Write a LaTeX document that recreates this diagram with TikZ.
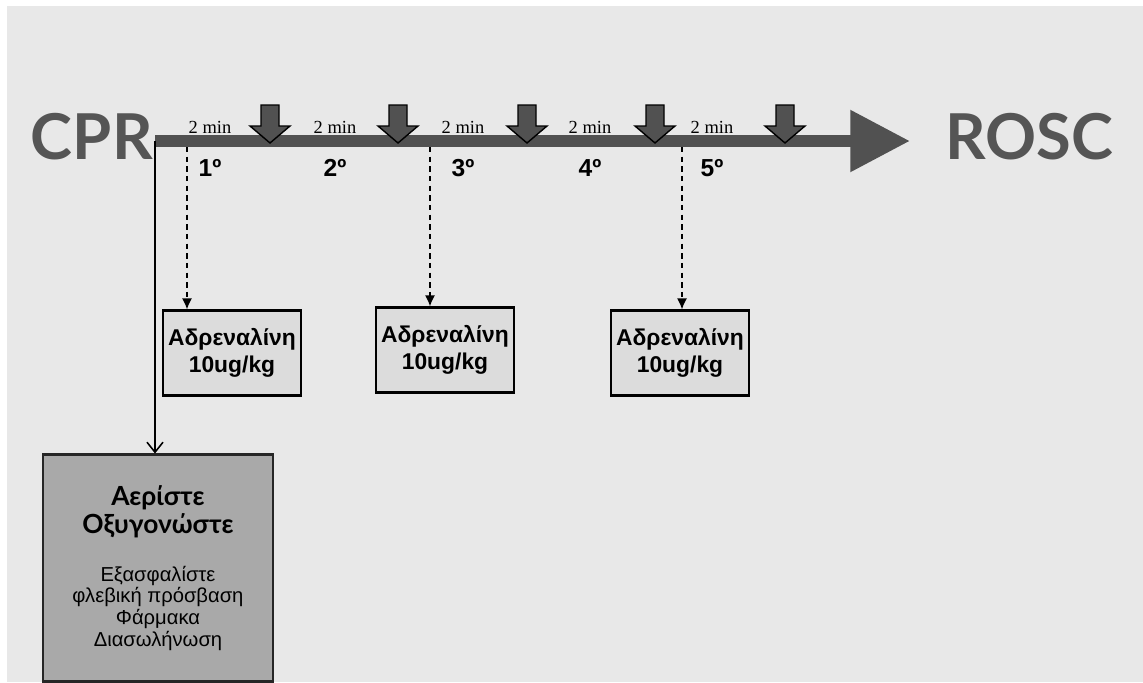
\documentclass[tikz,border=0pt]{standalone}
\usepackage{fontspec}
\setmainfont{Liberation Sans}
\newfontfamily\minfont{Liberation Serif}
\newfontfamily\titlefont{Lato}
\usepackage{tikz}
\usetikzlibrary{arrows.meta,positioning,calc}
\definecolor{TLBack}{HTML}{E8E8E8}
\definecolor{TLBar}{HTML}{515151}
\definecolor{TLText}{HTML}{555555}
\definecolor{TLDose}{HTML}{DCDCDC}
\definecolor{TLVent}{HTML}{A9A9A9}

\begin{document}
\begin{tikzpicture}[
    x=0.02cm,y=-0.02cm,
    endpoint/.style={font=\titlefont\bfseries\fontsize{36}{36}\selectfont,
      text=TLText, inner sep=0pt},
    minlabel/.style={font=\minfont\fontsize{10.5}{12}\selectfont, inner sep=0pt},
    ordlabel/.style={font=\bfseries\fontsize{14}{16}\selectfont, inner sep=0pt},
    shock/.style={draw=black, fill=TLBar, line width=0.8pt, line join=miter},
    dosebox/.style={draw=black, fill=TLDose, line width=1.2pt,
      minimum width=2.76cm, minimum height=1.7cm, align=center, inner xsep=1pt,
      font=\bfseries\fontsize{13}{15.5}\selectfont},
    ventbox/.style={draw=black!85, fill=TLVent, line width=1.2pt,
      minimum width=4.6cm, minimum height=4.54cm, align=center,
      font=\fontsize{11.5}{12.4}\selectfont},
    doselink/.style={line width=0.9pt, dash pattern=on 3pt off 2.5pt,
      -{Latex[length=2.2mm,width=2mm]}},
    ventlink/.style={line width=0.9pt, -{Straight Barb[length=2mm,width=3.2mm]}}
  ]
    \useasboundingbox (0,0) rectangle (1143,683);
    \fill[TLBack] (7,6) rectangle (1143,682);

    \node[endpoint, anchor=east] (cpr) at (153,137) {CPR};
    \node[endpoint, anchor=west] (rosc) at (945,137) {ROSC};

    \coordinate (bar0) at (155,141);
    \coordinate (bar1) at (910,141);
    \draw[TLBar, line width=7pt, -{Triangle[length=34pt,width=33.5pt]}] (bar0) -- (bar1);

    \foreach \x in {270,398,527,655,785}
      \draw[shock] (\x-9,105) -- (\x+9,105) -- (\x+9,126) -- (\x+20,126)
        -- (\x,143) -- (\x-20,126) -- (\x-9,126) -- cycle;

    \foreach \x [count=\i] in {210,335,463,590,712} {
      \node[minlabel] (min\i) at (\x,127) {2 min};
      \node[ordlabel] (ord\i) at (\x,168) {{\i}º};
    }

    \node[dosebox] (adr1) at (232,353) {Αδρεναλίνη\\10ug/kg};
    \node[dosebox] (adr2) at (445,350) {Αδρεναλίνη\\10ug/kg};
    \node[dosebox] (adr3) at (680,353) {Αδρεναλίνη\\10ug/kg};

    \node[ventbox] (vent) at (158,568) {%
      {\titlefont\bfseries\fontsize{15}{16}\selectfont Αερίστε}\\[1pt]
      {\titlefont\bfseries\fontsize{15}{16}\selectfont Οξυγονώστε}\\[15pt]
      Εξασφαλίστε\\φλεβική πρόσβαση\\Φάρμακα\\Διασωλήνωση};

    \coordinate (t1) at (187,147);
    \coordinate (t2) at (430,147);
    \coordinate (t3) at (682,147);
    \foreach \i in {1,2,3}
      \draw[doselink] (t\i) -- (t\i |- adr\i.north);
    \draw[ventlink] (bar0) -- (bar0 |- vent.north);
  \end{tikzpicture}
\end{document}
